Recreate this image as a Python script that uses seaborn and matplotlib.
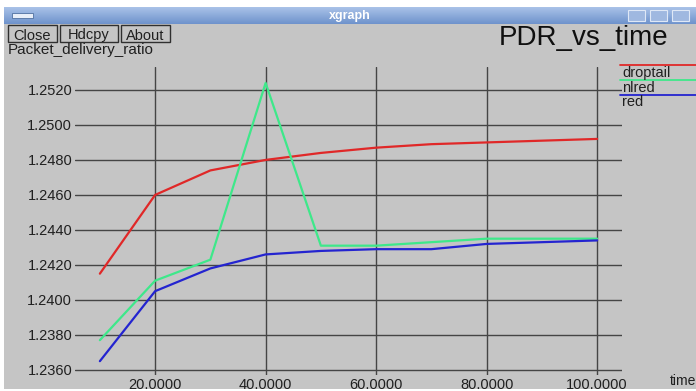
import pandas as pd
import numpy as np
import matplotlib
matplotlib.use("Agg")
import matplotlib.pyplot as plt
import seaborn as sns
from matplotlib.patches import Rectangle
from matplotlib.lines import Line2D

# valores
time = [10, 20, 30, 40, 50, 60, 70, 80, 90, 100]
droptail = [1.2415, 1.2460, 1.2474, 1.2480, 1.2484, 1.2487, 1.2489, 1.2490, 1.2491, 1.2492]
nlred = [1.2377, 1.2411, 1.2423, 1.2524, 1.2431, 1.2431, 1.2433, 1.2435, 1.2435, 1.2435]
red = [1.2365, 1.2405, 1.2418, 1.2426, 1.2428, 1.2429, 1.2429, 1.2432, 1.2433, 1.2434]

series = ['droptail', 'nlred', 'red']
colores = {'droptail': '#e02828', 'nlred': '#3ee88a', 'red': '#2424d0'}
x_ticks = [20, 40, 60, 80, 100]
y_ticks = [1.2360, 1.2380, 1.2400, 1.2420, 1.2440, 1.2460, 1.2480, 1.2500, 1.2520]

df = pd.DataFrame({
    'time': time * 3,
    'PDR': droptail + nlred + red,
    'serie': [s for s in series for _ in time],
})

sns.set_style("white")
plt.rcParams['font.family'] = ['Liberation Sans', 'DejaVu Sans']

gris = '#c5c5c5'
W, H = 696, 391
fig = plt.figure(figsize=(W / 100, H / 100), dpi=100)
fig.patch.set_facecolor('white')


def px(x, y):
    # pixeles -> fraccion de figura
    return x / W, 1 - y / H


# ventana gris
fig.patches.append(Rectangle(px(4, 389), (W - 4) / W, (389 - 7) / H, transform=fig.transFigure,
                             facecolor=gris, edgecolor='none', zorder=-10))
# barra de titulo
grad = np.linspace(0, 1, 32).reshape(-1, 1)
ax_bar = fig.add_axes([px(4, 0)[0], px(0, 24)[1], (W - 4) / W, 17 / H])
ax_bar.imshow(grad, aspect='auto', cmap=matplotlib.colors.LinearSegmentedColormap.from_list(
    'barra', ['#a9c2e8', '#6f93cc']), extent=[0, 1, 1, 0])
ax_bar.axis('off')
ax_bar.text(0.5, 0.5, 'xgraph', color='white', fontsize=9, fontweight='bold',
            ha='center', va='center', transform=ax_bar.transAxes)
ax_bar.add_patch(Rectangle((0.012, 0.35), 0.03, 0.3, transform=ax_bar.transAxes,
                           facecolor='#e8eef8', edgecolor='#5070a0', lw=0.6))
for xb in [628, 650, 672]:
    ax_bar.add_patch(Rectangle(((xb - 4) / (W - 4), 0.15), 17 / (W - 4), 0.7, transform=ax_bar.transAxes,
                               facecolor='#9fb8e0', edgecolor='#dfe8f6', lw=0.8))

# botones
for txt, x0, x1 in [('Close', 8, 57), ('Hdcpy', 60, 118), ('About', 121, 170)]:
    fig.patches.append(Rectangle(px(x0, 42), (x1 - x0) / W, 17 / H, transform=fig.transFigure,
                                 facecolor=gris, edgecolor='#303030', lw=1.0, zorder=1))
    fig.text(*px((x0 + x1) / 2, 34), txt, ha='center', va='center_baseline', fontsize=10.5, color='#202020')

fig.text(*px(8, 50), 'Packet_delivery_ratio', ha='left', va='center', fontsize=11, color='#202020')
fig.text(*px(668, 38), 'PDR_vs_time', ha='right', va='center', fontsize=20, color='#101010')
fig.text(*px(670, 381), 'time', ha='left', va='center', fontsize=10, color='#202020')

# ejes
l, t = px(75, 67)
r, b = px(622, 375)
ax = fig.add_axes([l, b, r - l, t - b])
ax.set_facecolor(gris)
sns.lineplot(data=df, x='time', y='PDR', hue='serie', palette=colores, linewidth=1.6,
             legend=False, ax=ax, zorder=3)
ax.set_xlim(5.5, 104.5)
ax.set_ylim(1.23571, 1.25331)
ax.set_xticks(x_ticks)
ax.set_xticklabels(['%.4f' % v for v in x_ticks])
ax.set_yticks(y_ticks)
ax.set_yticklabels(['%.4f' % v for v in y_ticks])
ax.grid(True, color='#454545', lw=1.0)
ax.tick_params(length=0, labelsize=10.5, labelcolor='#202020')
ax.tick_params(axis='y', pad=2)
ax.tick_params(axis='x', pad=2)
for sp in ax.spines.values():
    sp.set_visible(False)
ax.set_xlabel('')
ax.set_ylabel('')

# leyenda estilo xgraph
for i, s in enumerate(series):
    y_line = 65 + 15 * i
    fig.add_artist(Line2D([620 / W, 1.0], [1 - y_line / H] * 2, color=colores[s], lw=1.3,
                          transform=fig.transFigure))
    fig.text(*px(622, y_line + 7.5), s, ha='left', va='center', fontsize=10.5, color='#202020')

plt.savefig('out.png', dpi=100, facecolor=fig.get_facecolor())
plt.close()
